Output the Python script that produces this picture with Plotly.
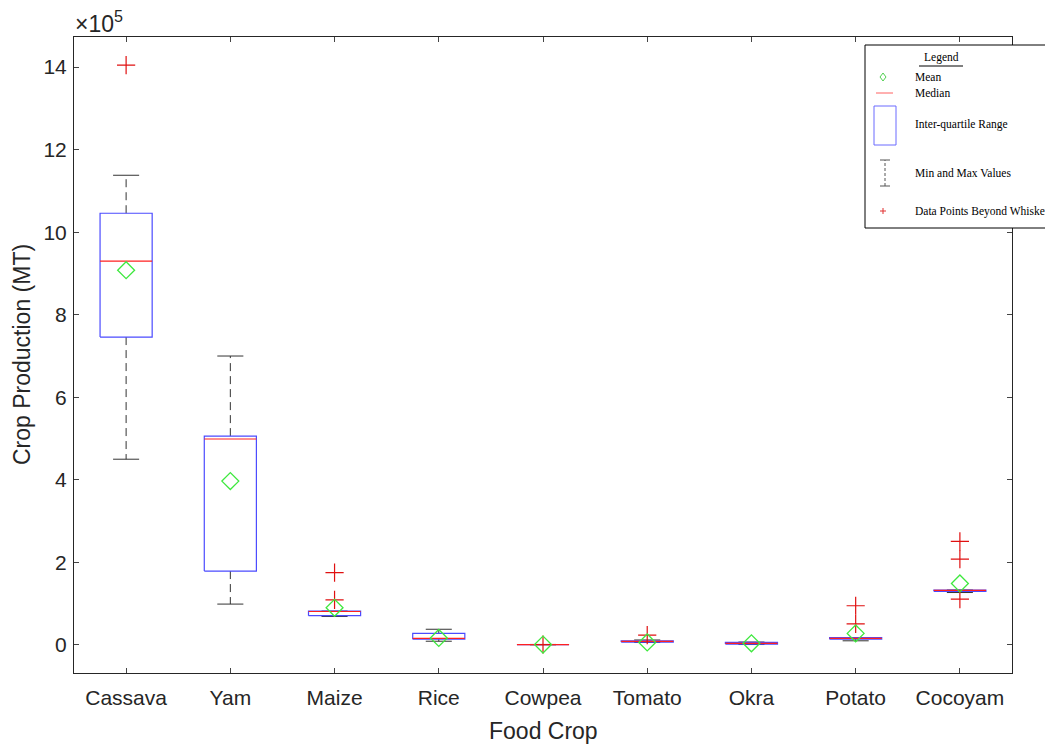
import plotly.graph_objects as go

crops = ["Cassava", "Yam", "Maize", "Rice", "Cowpea", "Tomato", "Okra", "Potato", "Cocoyam"]
q1 = [746000, 179000, 71000, 14000, 500, 7000, 2000, 14000, 130000]
medians = [930000, 499000, 81000, 16000, 800, 8500, 4000, 16000, 132000]
q3 = [1046000, 506000, 82000, 28000, 1000, 10000, 6000, 18000, 133000]
whisker_lo = [450000, 99000, 69000, 9000, 300, 6000, 1000, 10000, 127000]
whisker_hi = [1138000, 700000, 82000, 38000, 1200, 12000, 7000, 18000, 133000]
means = [908000, 397000, 90000, 17000, 1000, 6000, 4000, 28000, 149000]
outliers = [[1405000], [], [175000, 109000], [], [1000], [24000], [], [95000, 51000], [251000, 208000, 111000]]
ytick_vals = [0, 200000, 400000, 600000, 800000, 1000000, 1200000, 1400000]
ytick_text = ["0", "2", "4", "6", "8", "10", "12", "14"]

BW = 0.25   # half box width
CW = 0.125  # half cap width
pos = list(range(1, len(crops) + 1))

bx, by, mx, my, wx, wy, cx, cy, ox, oy = [], [], [], [], [], [], [], [], [], []
for i, p in enumerate(pos):
    bx += [p - BW, p + BW, p + BW, p - BW, p - BW, None]
    by += [q1[i], q1[i], q3[i], q3[i], q1[i], None]
    mx += [p - BW, p + BW, None]
    my += [medians[i], medians[i], None]
    wx += [p, p, None, p, p, None]
    wy += [q3[i], whisker_hi[i], None, q1[i], whisker_lo[i], None]
    cx += [p - CW, p + CW, None, p - CW, p + CW, None]
    cy += [whisker_hi[i], whisker_hi[i], None, whisker_lo[i], whisker_lo[i], None]
    for v in outliers[i]:
        ox.append(p)
        oy.append(v)

fig = go.Figure()
fig.add_trace(go.Scatter(x=wx, y=wy, mode="lines", line=dict(color="#333333", width=1, dash="8px,5px"), hoverinfo="skip"))
fig.add_trace(go.Scatter(x=cx, y=cy, mode="lines", line=dict(color="#333333", width=1), hoverinfo="skip"))
fig.add_trace(go.Scatter(x=bx, y=by, mode="lines", line=dict(color="#4b4bff", width=1.2), hoverinfo="skip"))
fig.add_trace(go.Scatter(x=mx, y=my, mode="lines", line=dict(color="#ff2020", width=1.2), hoverinfo="skip"))
fig.add_trace(go.Scatter(x=ox, y=oy, mode="markers",
                         marker=dict(symbol="cross-thin-open", size=13, color="#e01010",
                                     line=dict(color="#e01010", width=1.2))))
fig.add_trace(go.Scatter(x=pos, y=means, mode="markers",
                         marker=dict(symbol="diamond-open", size=13, color="#3ee83e",
                                     line=dict(color="#3ee83e", width=1.3))))

L, R, T, B = 74, 1012, 37, 673
def px(x):
    return (x - L) / (R - L)
def py(y):
    return (B - y) / (B - T)

shapes = []
annotations = []
# legend box
shapes.append(dict(type="rect", xref="paper", yref="paper", x0=px(865), x1=px(1090), y0=py(228), y1=py(45),
                   line=dict(color="black", width=1), fillcolor="white", layer="above"))
# underline of "Legend"
shapes.append(dict(type="line", xref="paper", yref="paper", x0=px(919), x1=px(963), y0=py(66), y1=py(66),
                   line=dict(color="black", width=1), layer="above"))
# mean sample (diamond)
dpath = "M {a},{b} L {c},{d} L {a},{e} L {f},{d} Z".format(
    a=px(883), b=py(73), c=px(886), d=py(77), e=py(81), f=px(880))
shapes.append(dict(type="path", xref="paper", yref="paper", path=dpath,
                   line=dict(color="#50d050", width=1), layer="above"))
# median sample
shapes.append(dict(type="line", xref="paper", yref="paper", x0=px(876), x1=px(893), y0=py(93), y1=py(93),
                   line=dict(color="#ff6060", width=1), layer="above"))
# IQR sample
shapes.append(dict(type="rect", xref="paper", yref="paper", x0=px(874), x1=px(896), y0=py(145), y1=py(106),
                   line=dict(color="#6a6aff", width=1), layer="above"))
# min/max sample
shapes.append(dict(type="line", xref="paper", yref="paper", x0=px(885), x1=px(885), y0=py(186), y1=py(160),
                   line=dict(color="#555555", width=1, dash="3px,2px"), layer="above"))
shapes.append(dict(type="line", xref="paper", yref="paper", x0=px(880), x1=px(890), y0=py(160), y1=py(160),
                   line=dict(color="#555555", width=1), layer="above"))
shapes.append(dict(type="line", xref="paper", yref="paper", x0=px(880), x1=px(890), y0=py(186), y1=py(186),
                   line=dict(color="#555555", width=1), layer="above"))
# outlier sample (+)
shapes.append(dict(type="line", xref="paper", yref="paper", x0=px(880), x1=px(886), y0=py(211), y1=py(211),
                   line=dict(color="#e03030", width=1), layer="above"))
shapes.append(dict(type="line", xref="paper", yref="paper", x0=px(883), x1=px(883), y0=py(208), y1=py(214),
                   line=dict(color="#e03030", width=1), layer="above"))

lf = dict(family="Liberation Serif, Times New Roman, serif", size=11.5, color="black")
def lab(text, x, y, anchor="left"):
    annotations.append(dict(text=text, xref="paper", yref="paper", x=px(x), y=py(y), xanchor=anchor,
                            yanchor="middle", showarrow=False, font=lf))
lab("Legend", 941, 57, "center")
lab("Mean", 913, 77)
lab("Median", 913, 93)
lab("Inter-quartile Range", 913, 124)
lab("Min and Max Values", 913, 173)
lab("Data Points Beyond Whiskers", 913, 211)

sans = "Liberation Sans, Arial, sans-serif"
annotations.append(dict(text="×10<sup>5</sup>", xref="paper", yref="paper", x=px(73), y=py(22), xanchor="left",
                        yanchor="middle", showarrow=False, font=dict(family=sans, size=23, color="#262626")))
annotations.append(dict(text="Food Crop", xref="paper", yref="paper", x=0.5, y=py(731), xanchor="center",
                        yanchor="middle", showarrow=False, font=dict(family=sans, size=23, color="#262626")))
annotations.append(dict(text="Crop Production (MT)", xref="paper", yref="paper", x=px(22), y=0.5,
                        xanchor="center", yanchor="middle", textangle=-90, showarrow=False,
                        font=dict(family=sans, size=23, color="#262626")))

axis_font = dict(family=sans, size=21, color="#262626")
fig.update_layout(
    width=1045, height=745,
    margin=dict(l=L, r=1045 - R, t=T, b=745 - B),
    paper_bgcolor="white", plot_bgcolor="white",
    showlegend=False,
    shapes=shapes, annotations=annotations,
    xaxis=dict(range=[0.5, 9.5], tickvals=pos, ticktext=crops, ticks="inside", ticklen=5,
               showline=True, linecolor="#262626", linewidth=1, mirror="ticks", showgrid=False,
               zeroline=False, tickfont=axis_font),
    yaxis=dict(range=[-68000, 1473000], tickvals=ytick_vals, ticktext=ytick_text, ticks="inside", ticklen=5,
               showline=True, linecolor="#262626", linewidth=1, mirror="ticks", showgrid=False,
               zeroline=False, tickfont=axis_font),
)
try:
    fig.update_xaxes(ticklabelstandoff=6)
    fig.update_yaxes(ticklabelstandoff=2)
except Exception:
    pass

fig.write_html("out.html")
